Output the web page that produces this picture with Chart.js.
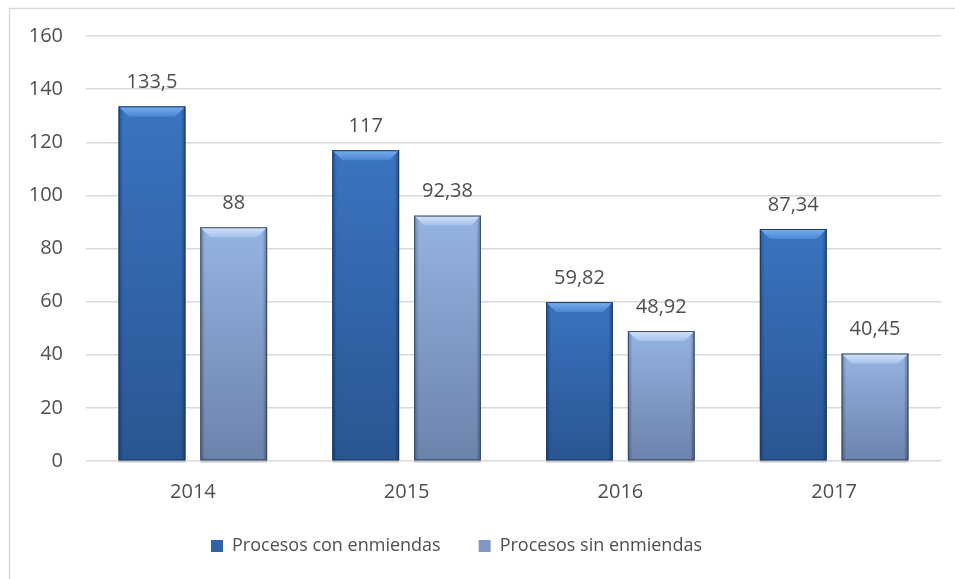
<!DOCTYPE html>
<html><head><meta charset="utf-8">
<script src="https://cdn.jsdelivr.net/npm/chart.js@4/dist/chart.umd.min.js"></script>
<style>html,body{margin:0;padding:0;background:#fff}#wrap{width:955px;height:579px;position:relative}</style>
</head><body><div id="wrap"><canvas id="c" width="955" height="579"></canvas></div>
<script>
const categories = ['2014', '2015', '2016', '2017'];
const conEnmiendas = [133.5, 117, 59.82, 87.34];
const sinEnmiendas = [88, 92.38, 48.92, 40.45];
const seriesNames = ['Procesos con enmiendas', 'Procesos sin enmiendas'];
const yMin = 0, yMax = 160, yStep = 20;

const FONT = '"Open Sans", "DejaVu Sans", sans-serif';
const TEXT = '#4f4f4f';
const palettes = [
  {top:'#3a74c0', bottom:'#2a5592', bevelTop:'#78b0f0', bevelBottom:'#4a86d2', edge:'#1d3c66', legend:'#2f62a6'},
  {top:'#95b3e2', bottom:'#6c83ac', bevelTop:'#d6e6fb', bevelBottom:'#a4c0ea', edge:'#3c4b66', legend:'#7f97c2'}
];

function drawBevelBar(ctx, el, pal){
  const w = el.width, left = el.x - w/2, right = el.x + w/2, top = el.y, bottom = el.base;
  const h = bottom - top;
  ctx.save();
  ctx.fillStyle = 'rgba(0,0,0,0.16)';
  ctx.fillRect(left, bottom, w, 2.5);
  const g = ctx.createLinearGradient(0, top, 0, bottom);
  g.addColorStop(0, pal.top); g.addColorStop(1, pal.bottom);
  ctx.fillStyle = g; ctx.fillRect(left, top, w, h);
  const gs = ctx.createLinearGradient(left, 0, right, 0);
  gs.addColorStop(0, 'rgba(0,0,0,0.28)'); gs.addColorStop(0.07, 'rgba(0,0,0,0)');
  gs.addColorStop(0.93, 'rgba(0,0,0,0)'); gs.addColorStop(1, 'rgba(0,0,0,0.32)');
  ctx.fillStyle = gs; ctx.fillRect(left, top, w, h);
  const b = Math.min(10, h/2);
  const gb = ctx.createLinearGradient(0, top, 0, top + b);
  gb.addColorStop(0, pal.bevelTop); gb.addColorStop(1, pal.bevelBottom);
  ctx.beginPath(); ctx.moveTo(left, top); ctx.lineTo(right, top);
  ctx.lineTo(right - b, top + b); ctx.lineTo(left + b, top + b); ctx.closePath();
  ctx.fillStyle = gb; ctx.fill();
  ctx.strokeStyle = pal.edge; ctx.lineWidth = 1;
  ctx.strokeRect(left + 0.5, top + 0.5, w - 1, h - 1);
  ctx.restore();
}

const bevelPlugin = {
  id: 'bevel',
  beforeUpdate(chart){
    const lg = chart.legend;
    if (lg && !lg._patched){
      const f = lg.fit.bind(lg);
      lg.fit = function(){ f(); this.height = 80; };
      lg._patched = true;
    }
  },
  afterLayout(chart){
    const lg = chart.legend;
    if (lg){ lg.right -= 28; lg.width = lg.right - lg.left; }
  },
  beforeDraw(chart){
    const ctx = chart.ctx;
    ctx.save();
    ctx.fillStyle = '#fff'; ctx.fillRect(0, 0, chart.width, chart.height);
    ctx.strokeStyle = '#d9d9d9'; ctx.lineWidth = 1.5;
    ctx.beginPath(); ctx.moveTo(9.5, chart.height); ctx.lineTo(9.5, 8.5); ctx.lineTo(chart.width, 8.5); ctx.stroke();
    ctx.restore();
  },
  afterDatasetsDraw(chart){
    const ctx = chart.ctx;
    chart.data.datasets.forEach((ds, i) => {
      const meta = chart.getDatasetMeta(i);
      meta.data.forEach((el, j) => {
        drawBevelBar(ctx, el, palettes[i]);
        ctx.save();
        ctx.fillStyle = TEXT;
        ctx.font = '20px ' + FONT;
        ctx.textAlign = 'center'; ctx.textBaseline = 'middle';
        ctx.fillText(String(ds.data[j]).replace('.', ','), el.x, el.y - 24);
        ctx.restore();
      });
    });
  }
};

new Chart(document.getElementById('c'), {
  type: 'bar',
  data: {
    labels: categories,
    datasets: [
      {label: seriesNames[0], data: conEnmiendas, backgroundColor: palettes[0].legend, borderColor: palettes[0].edge, borderWidth: 0},
      {label: seriesNames[1], data: sinEnmiendas, backgroundColor: palettes[1].legend, borderColor: palettes[1].edge, borderWidth: 0}
    ]
  },
  options: {
    responsive: false,
    animation: false,
    devicePixelRatio: 1,
    categoryPercentage: 0.765,
    barPercentage: 0.816,
    layout: {padding: {left: 0, right: 14, top: 36, bottom: 0}},
    plugins: {
      legend: {
        position: 'bottom',
        labels: {
          color: TEXT, font: {family: FONT, size: 18},
          boxWidth: 12, boxHeight: 12, padding: 38
        }
      },
      tooltip: {enabled: false}
    },
    scales: {
      x: {
        afterFit(scale){ scale.height = 38; },
        grid: {display: false, drawTicks: false},
        border: {display: false},
        ticks: {color: TEXT, font: {family: FONT, size: 20}, padding: 19}
      },
      y: {
        min: yMin, max: yMax,
        afterFit(scale){ scale.width = 86; },
        grid: {color: '#d9d9d9', lineWidth: 1.5, drawTicks: false},
        border: {display: false},
        ticks: {stepSize: yStep, color: TEXT, font: {family: FONT, size: 20}, padding: 23}
      }
    }
  },
  plugins: [bevelPlugin]
});
</script>
</body></html>
